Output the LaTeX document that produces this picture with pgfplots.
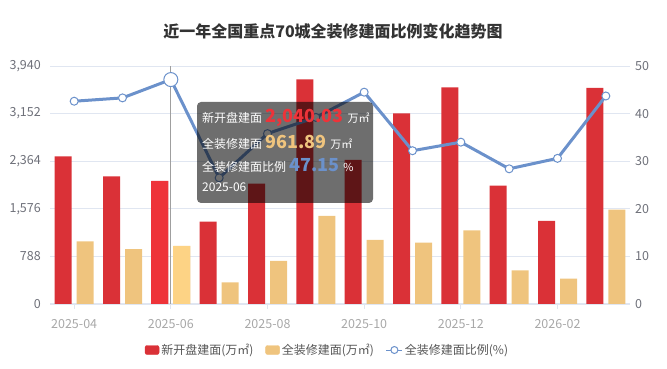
\documentclass[border=0pt]{standalone}
\usepackage{fontspec}
\setmainfont{Noto Sans CJK SC}
\usepackage{pgfplots}
\pgfplotsset{compat=1.18}
\definecolor{cred}{HTML}{DA3137}
\definecolor{credh}{HTML}{EE3339}
\definecolor{cyel}{HTML}{EFC47E}
\definecolor{cyelh}{HTML}{FDD385}
\definecolor{cline}{HTML}{6B91CB}
\definecolor{cgrid}{HTML}{E0E6F1}
\definecolor{clab}{HTML}{6E7079}
\definecolor{cxlab}{HTML}{A8A8A8}
\definecolor{ctitle}{HTML}{333333}
\definecolor{cleg}{HTML}{555555}
\begin{document}
\begin{tikzpicture}[x=1pt,y=1pt]
\useasboundingbox (0,0) rectangle (667,369);
\node[font=\bfseries\fontsize{16}{16}\selectfont, text=ctitle] at (333,338) {近一年全国重点70城全装修建面比例变化趋势图};
\begin{axis}[
  at={(50pt,65pt)}, anchor=south west, scale only axis,
  width=580pt, height=238pt,
  xmin=-0.5, xmax=11.5, ymin=0, ymax=3940,
  ytick={0,788,1576,2364,3152,3940},
  xtick={0,2,4,6,8,10},
  xticklabels={2025-04,2025-06,2025-08,2025-10,2025-12,2026-02},
  axis x line*=bottom, axis y line*=left,
  y axis line style={draw=none},
  x axis line style={draw=cgrid, line width=1pt, -},
  ytick style={draw=none},
  xtick style={draw=cgrid, line width=1pt},
  tick align=outside, major tick length=5pt,
  ymajorgrids, grid style={draw=cgrid, line width=0.8pt},
  scaled y ticks=false,
  yticklabel style={font=\fontsize{12.5}{12.5}\selectfont, text=clab, inner sep=0pt, xshift=-4pt,
    /pgf/number format/.cd, 1000 sep={,}},
  xticklabel style={font=\fontsize{12.5}{12.5}\selectfont, text=cxlab, inner sep=0pt, yshift=-10pt},
  /pgf/number format/assume math mode=true,
  ybar, bar width=17pt,
]
\addplot[fill=cred, draw=none, bar shift=-11pt] coordinates {
(0,2444) (1,2111) (2,2040.03) (3,1363) (4,1992) (5,3720) (6,2384) (7,3157) (8,3587) (9,1959) (10,1374) (11,3576)};
\addplot[fill=cyel, draw=none, bar shift=11pt] coordinates {
(0,1036) (1,909) (2,961.89) (3,359) (4,712) (5,1457) (6,1060) (7,1015) (8,1220) (9,557) (10,419) (11,1562)};
\addplot[fill=credh, draw=none, bar shift=-11pt] coordinates {(2,2040.03)};
\addplot[fill=cyelh, draw=none, bar shift=11pt] coordinates {(2,961.89)};
\end{axis}
\begin{axis}[
  at={(50pt,65pt)}, anchor=south west, scale only axis,
  width=580pt, height=238pt,
  xmin=-0.5, xmax=11.5, ymin=0, ymax=50,
  ytick={0,10,20,30,40,50},
  axis y line*=right, axis x line=none,
  y axis line style={draw=none}, ytick style={draw=none},
  yticklabel style={font=\fontsize{12.5}{12.5}\selectfont, text=clab, inner sep=0pt, xshift=5pt},
  /pgf/number format/assume math mode=true,
  legend style={at={(0.4784,-0.1933)}, anchor=center, draw=none, fill=none,
    legend columns=3, font=\fontsize{12}{12}\selectfont, text=cleg,
    /tikz/every even column/.append style={column sep=10pt},
    nodes={inner sep=2pt}},
  legend cell align=left,
]
\addlegendimage{legend image code/.code={\fill[cred, rounded corners=2pt] (0pt,-4.5pt) rectangle (14pt,4.5pt);}}
\addlegendentry{新开盘建面(万㎡)}
\addlegendimage{legend image code/.code={\fill[cyel, rounded corners=2pt] (0pt,-4.5pt) rectangle (14pt,4.5pt);}}
\addlegendentry{全装修建面(万㎡)}
\addplot[cline, line width=3pt, mark=*, mark size=4pt,
  mark options={fill=white, draw=cline, line width=1pt},
  legend image code/.code={\draw[cline, line width=1pt] (0pt,0pt) -- (16pt,0pt); \draw[cline, line width=1pt, fill=white] (8pt,0pt) circle (3.5pt);}]
coordinates {(0,42.6) (1,43.3) (2,47.15) (3,26.5) (4,35.8) (5,39.2) (6,44.5) (7,32.2) (8,34.0) (9,28.4) (10,30.6) (11,43.7)};
\addlegendentry{全装修建面比例(\%)}
\addplot[only marks, mark=*, mark size=7pt, mark options={fill=white, draw=cline, line width=1pt}, forget plot] coordinates {(2,47.15)};
\addplot[draw=gray!75, line width=0.8pt, forget plot] coordinates {(2,0) (2,50)};
\end{axis}
\fill[black, opacity=0.57, rounded corners=4pt] (197,166) rectangle (373,267);
\node[anchor=west, text=white, inner sep=0pt] at (202,251) {\fontsize{12}{12}\selectfont 新开盘建面\hspace{3pt}{\bfseries\fontsize{18}{18}\selectfont\color{credh}2,040.03}\hspace{4pt}{\fontsize{11}{11}\selectfont 万㎡}};
\node[anchor=west, text=white, inner sep=0pt] at (202,227) {\fontsize{12}{12}\selectfont 全装修建面\hspace{3pt}{\bfseries\fontsize{18}{18}\selectfont\color{cyel}961.89}\hspace{4pt}{\fontsize{11}{11}\selectfont 万㎡}};
\node[anchor=west, text=white, inner sep=0pt] at (202,204) {\fontsize{12}{12}\selectfont 全装修建面比例\hspace{3pt}{\bfseries\fontsize{18}{18}\selectfont\color{cline}47.15}\hspace{4pt}{\fontsize{11}{11}\selectfont \%}};
\node[anchor=west, text=white, inner sep=0pt] at (202,182) {\fontsize{12}{12}\selectfont 2025-06};
\end{tikzpicture}
\end{document}
